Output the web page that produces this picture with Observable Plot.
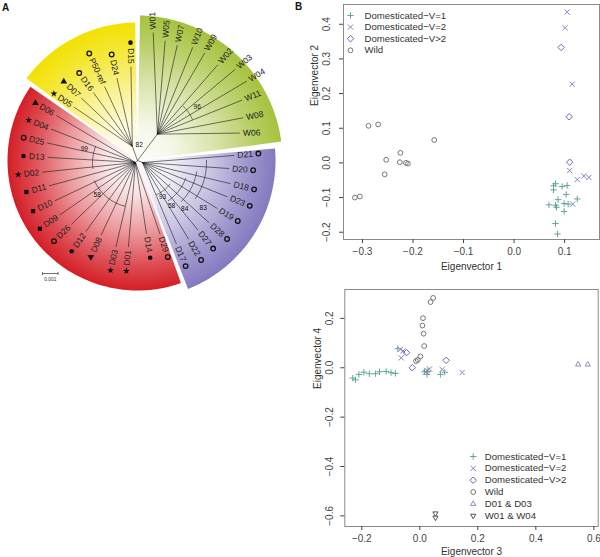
<!DOCTYPE html>
<html><head><meta charset="utf-8">
<script src="https://cdn.jsdelivr.net/npm/d3@7"></script>
<script src="https://cdn.jsdelivr.net/npm/@observablehq/plot@0.6"></script>
<style>
html,body{margin:0;padding:0;background:#fff;}
#fig{position:relative;width:600px;height:557px;overflow:hidden;font-family:"Liberation Sans",Arial,sans-serif;}
#fig svg{position:absolute;overflow:visible;}
.panel{position:absolute;font-weight:bold;font-size:10px;color:#111;line-height:10px;}
</style></head><body><div id="fig"></div>
<script>
// ================= Panel A : tree data =================
const cladeName      = ["W", "P", "R", "Y"];
const cladeNodeAngle = [37, 112, 225, 340];
const cladeNodeDist  = [33, 5.4, 2.8, 15];

const leafName = ["W01","W05","W07","W10","W09","W02","W03","W04","W11","W08","W06",
  "D21","D20","D18","D23","D19","D28","D27","D22","D17",
  "D29","D14","D01","D03","D08","D12","D26","D09","D10","D11","D02","D13","D25","D04","D06",
  "D05","D07","D16","P50-ref","D24","D15"];
const leafClade = ["W","W","W","W","W","W","W","W","W","W","W",
  "P","P","P","P","P","P","P","P","P",
  "R","R","R","R","R","R","R","R","R","R","R","R","R","R","R",
  "Y","Y","Y","Y","Y","Y"];
const leafAngle = [7,13,19,26,32,40,47,54,60,68,75,
  87,95,104,112,121,131,139,147,155,
  163,173,186,194,206,216,226,235,244,254,263,272,281,290,299,
  310,318,327,336,346,356];
const leafLength = [129,123,122,126,127,125,134,135,121,114,106,
  97,92,96,97,93,95,92,94,92,
  77,74,87,89,83,88,92,95,92,92,96,90,92,92,93,
  83,84,81,81,85,94];
const leafMarker = ["","","","","","","","","","","",
  "ring","ring","ring","ring","ring","ring","ring","ring","ring",
  "ring","dot","star","star","tridown","dot","ring","square","square","square","star","dot","ring","star","tri",
  "star","tri","ring","ring","ring","dot"];

const sectorClade  = ["W", "P", "R", "Y"];
const sectorStart  = [1, 85, 160.5, 306.5];
const sectorEnd    = [82.5, 158.5, 304.5, 359];
const sectorRadius = [145, 138, 130, 138];
const sectorColor  = ["#a6c23e", "#8379bf", "#d41e26", "#f2e100"];

const bsValue      = ["99","58","96","83","84","58","93","82"];
const bsClade      = ["R","R","W","P","P","P","P","root"];
const bsRadius     = [43, 45, 38, 64, 55, 46, 35, 0];
const bsFrom       = [262, 194, 43, 88, 100, 110, 128, 0];
const bsTo         = [292, 246, 67, 124, 135, 146, 156, 0];
const bsLabelAngle = [285, 230, 56, 127, 138, 146, 150, 6];
const bsLabelDist  = [53, 50, 48, 76, 63, 52, 40, 16];

const scaleBarValue = 0.001;
const scaleBarLength = 15.6;

// ================= Panel B : PCA data =================
const groupLabel1 = ["Domesticated\u2212V=1","Domesticated\u2212V=2","Domesticated\u2212V>2","Wild"];
const groupLabel2 = ["Domesticated\u2212V=1","Domesticated\u2212V=2","Domesticated\u2212V>2","Wild","D01 & D03","W01 & W04"];

const pc1V1x = [0.078,0.082,0.078,0.095,0.105,0.103,0.087,0.125,0.069,0.082,0.099,0.107,0.099,0.082,0.086,0.084];
const pc1V1y = [-0.066,-0.060,-0.078,-0.068,-0.065,-0.091,-0.106,-0.104,-0.121,-0.122,-0.117,-0.119,-0.140,-0.175,-0.205,-0.128];
const pc1V2x = [0.105,0.101,0.115,0.110,0.125,0.138,0.148,0.116];
const pc1V2y = [0.435,0.390,0.227,-0.022,-0.048,-0.038,-0.042,-0.119];
const pc1V3x = [0.093,0.109,0.110];
const pc1V3y = [0.333,0.133,0.002];
const pc1Wx  = [-0.288,-0.269,-0.158,-0.225,-0.253,-0.226,-0.214,-0.210,-0.256,-0.315,-0.305];
const pc1Wy  = [0.107,0.111,0.066,0.029,0.009,0.002,0.000,-0.002,-0.033,-0.100,-0.097];

const pc2V1x = [-0.231,-0.222,-0.210,-0.193,-0.174,-0.153,-0.139,-0.116,-0.099,-0.084,-0.076,0.016,0.025,0.028,0.071,0.086];
const pc2V1y = [-0.042,-0.049,-0.027,-0.018,-0.024,-0.024,-0.016,-0.015,-0.020,-0.023,0.077,-0.016,-0.027,-0.015,-0.027,-0.018];
const pc2V2x = [-0.067,-0.064,-0.058,0.020,0.025,0.033,0.077,0.146];
const pc2V2y = [0.074,0.040,0.068,-0.018,-0.011,-0.005,-0.007,-0.019];
const pc2V3x = [-0.046,-0.026,0.091];
const pc2V3y = [0.061,0.000,0.030];
const pc2Wx  = [0.046,0.037,0.011,0.009,0.013,0.015,0.002,-0.007,-0.013];
const pc2Wy  = [0.283,0.266,0.201,0.171,0.138,0.088,0.046,0.032,0.027];
const pc2Dx  = [0.546,0.579];
const pc2Dy  = [0.013,0.013];
const pc2Ex  = [0.054,0.054];
const pc2Ey  = [-0.590,-0.607];

const xTicks1 = [-0.3,-0.2,-0.1,0.0,0.1];
const yTicks1 = [-0.2,-0.1,0.0,0.1,0.2,0.3,0.4];
const xTicks2 = [-0.2,0.0,0.2,0.4,0.6];
const yTicks2 = [-0.6,-0.4,-0.2,0.0,0.2];

// ================= build =================
const FONT = '"Liberation Sans", Arial, Helvetica, sans-serif';
const fig = document.getElementById("fig");
const rad = Math.PI / 180;
const polar = (a, d, o = {x: 0, y: 0}) => ({x: o.x + d * Math.sin(a * rad), y: o.y - d * Math.cos(a * rad)});

const leafFont = 8.5;
const ctx = document.createElement("canvas").getContext("2d");
ctx.font = `${leafFont}px ${FONT}`;
const measure = s => ctx.measureText(s).width;

const nodeOf = {root: {x: 0, y: 0}};
cladeName.forEach((c, i) => nodeOf[c] = polar(cladeNodeAngle[i], cladeNodeDist[i]));

const leaves = leafName.map((name, i) => {
  const c = leafClade[i];
  const node = nodeOf[c];
  const tip = polar(leafAngle[i], leafLength[i]);
  const dir = (Math.atan2(tip.x - node.x, -(tip.y - node.y)) / rad + 360) % 360;
  const right = c === "W" || c === "P" || (c === "R" && dir < 180);
  const lab = polar(dir, 3, tip);
  const mk = polar(dir, 3 + measure(name) + 5.5, tip);
  return {name, nx: node.x, ny: node.y, tx: tip.x, ty: tip.y, lx: lab.x, ly: lab.y, mx: mk.x, my: mk.y,
          rot: right ? dir - 90 : dir - 270, right, marker: leafMarker[i]};
});
const stems = cladeName.map(c => ({x: nodeOf[c].x, y: nodeOf[c].y}));

const sectorPts = [];
sectorClade.forEach((c, i) => {
  sectorPts.push({id: c, x: 0, y: 0});
  const n = 72;
  for (let k = 0; k <= n; k++) {
    const p = polar(sectorStart[i] + (sectorEnd[i] - sectorStart[i]) * k / n, sectorRadius[i]);
    sectorPts.push({id: c, x: p.x, y: p.y});
  }
});

const arcPts = [], bsLabels = [];
bsValue.forEach((v, i) => {
  const o = nodeOf[bsClade[i]];
  if (bsRadius[i] > 0) {
    const n = 24;
    for (let k = 0; k <= n; k++) {
      const p = polar(bsFrom[i] + (bsTo[i] - bsFrom[i]) * k / n, bsRadius[i], o);
      arcPts.push({id: i, x: p.x, y: p.y});
    }
  }
  const l = polar(bsLabelAngle[i], bsLabelDist[i], o);
  bsLabels.push({text: v, x: l.x, y: l.y});
});

const defsMark = (index, scales) => {
  const ns = "http://www.w3.org/2000/svg";
  const defs = document.createElementNS(ns, "defs");
  const cx = scales && typeof scales.x === "function" ? scales.x(0) : 137;
  const cy = scales && typeof scales.y === "function" ? scales.y(0) : 160;
  sectorClade.forEach((c, i) => {
    const g = document.createElementNS(ns, "radialGradient");
    g.setAttribute("id", "grad-" + c);
    g.setAttribute("gradientUnits", "userSpaceOnUse");
    g.setAttribute("cx", cx); g.setAttribute("cy", cy); g.setAttribute("r", sectorRadius[i]);
    [[0, 0.02], [0.25, 0.12], [0.55, 0.45], [0.8, 0.78], [1, 1]].forEach(([o, a]) => {
      const s = document.createElementNS(ns, "stop");
      s.setAttribute("offset", o); s.setAttribute("stop-color", sectorColor[i]); s.setAttribute("stop-opacity", a);
      g.appendChild(s);
    });
    defs.appendChild(g);
  });
  return defs;
};

const lineC = "#1a1a1a";
const barX0 = -95, barY = 113;
const tree = Plot.plot({
  width: 295, height: 300, margin: 0,
  x: {domain: [-137, 158], range: [0, 295], axis: null},
  y: {domain: [-160, 140], range: [0, 300], axis: null},
  style: {fontFamily: FONT, background: "transparent"},
  marks: [
    defsMark,
    ...sectorClade.map(c => Plot.line(sectorPts.filter(d => d.id === c),
      {x: "x", y: "y", fill: `url(#grad-${c})`, stroke: "none", curve: "linear-closed"})),
    Plot.link(stems, {x1: () => 0, y1: () => 0, x2: "x", y2: "y", stroke: lineC, strokeWidth: 0.6}),
    Plot.link(leaves, {x1: "nx", y1: "ny", x2: "tx", y2: "ty", stroke: lineC, strokeWidth: 0.6}),
    Plot.line(arcPts, {x: "x", y: "y", z: "id", stroke: lineC, strokeWidth: 0.6}),
    Plot.text(bsLabels, {x: "x", y: "y", text: "text", fontSize: 6.5, fill: "#111"}),
    Plot.text(leaves.filter(d => d.right), {x: "lx", y: "ly", text: "name", rotate: "rot",
      textAnchor: "start", lineAnchor: "middle", fontSize: leafFont, fill: "#222"}),
    Plot.text(leaves.filter(d => !d.right), {x: "lx", y: "ly", text: "name", rotate: "rot",
      textAnchor: "end", lineAnchor: "middle", fontSize: leafFont, fill: "#222"}),
    Plot.dot(leaves.filter(d => d.marker === "dot"), {x: "mx", y: "my", r: 2.3, fill: "#111", stroke: "none"}),
    Plot.dot(leaves.filter(d => d.marker === "ring"), {x: "mx", y: "my", r: 2.3, fill: "none", stroke: "#111", strokeWidth: 1.3}),
    Plot.dot(leaves.filter(d => d.marker === "star"), {x: "mx", y: "my", r: 2.2, symbol: "star", fill: "#111", stroke: "none"}),
    Plot.dot(leaves.filter(d => d.marker === "tri"), {x: "mx", y: "my", r: 2.5, symbol: "triangle", fill: "#111", stroke: "none"}),
    Plot.dot(leaves.filter(d => d.marker === "tridown"), {x: "mx", y: "my", r: 2.5, symbol: "triangle", rotate: 180, fill: "#111", stroke: "none"}),
    Plot.dot(leaves.filter(d => d.marker === "square"), {x: "mx", y: "my", r: 2.4, symbol: "square", fill: "#111", stroke: "none"}),
    Plot.link([scaleBarValue], {x1: () => barX0, x2: () => barX0 + scaleBarLength, y1: () => barY, y2: () => barY, stroke: "#333", strokeWidth: 0.7}),
    Plot.link([0, 1], {x1: d => barX0 + d * scaleBarLength, x2: d => barX0 + d * scaleBarLength, y1: () => barY - 1.5, y2: () => barY + 1.5, stroke: "#333", strokeWidth: 0.7}),
    Plot.text([scaleBarValue], {x: () => barX0 + scaleBarLength / 2, y: () => barY + 6, text: d => d3.format(".3f")(d), fontSize: 4.8, fill: "#333"})
  ]
});
tree.style.left = "0px"; tree.style.top = "0px";
fig.appendChild(tree);

// ---------- scatter helper ----------
const fmt = d3.format(".1f");
const rows = (xs, ys) => xs.map((x, i) => ({x, y: ys[i]}));
function scatter(o) {
  const marks = [
    Plot.frame({stroke: "#8a8a8a"}),
    Plot.axisX({ticks: o.xTicks, tickFormat: fmt, tickSize: 4, tickPadding: o.xPad, label: null, fontSize: 10, color: "#444"}),
    Plot.axisY({ticks: o.yTicks, tickFormat: fmt, tickSize: 4, tickPadding: o.yPad, tickRotate: -90, label: null, fontSize: 10, color: "#444"}),
    ...o.groups.map(g => Plot.dot(g.data, {x: "x", y: "y", symbol: g.symbol, r: g.r, stroke: g.color, strokeWidth: 1, fill: "none", rotate: g.rotate || 0})),
    Plot.text([o.xLabel], {frameAnchor: "bottom", dy: o.xLabelDy, text: d => d, fontSize: 10, fill: "#333", lineAnchor: "middle"}),
    Plot.text([o.yLabel], {frameAnchor: "left", dx: o.yLabelDx, dy: o.yLabelDy, rotate: -90, text: d => d, fontSize: 10, fill: "#333", lineAnchor: "middle"}),
    ...o.groups.flatMap((g, i) => [
      Plot.dot([g], {frameAnchor: "top-left", dx: o.legDx, dy: o.legDy + i * o.legStep, symbol: g.symbol, r: g.r, stroke: g.color, strokeWidth: 1, fill: "none", rotate: g.rotate || 0}),
      Plot.text([g.label], {frameAnchor: "top-left", dx: o.legTextDx, dy: o.legDy + i * o.legStep, text: d => d, textAnchor: "start", lineAnchor: "middle", fontSize: 9.6, fill: "#333"})
    ])
  ];
  return Plot.plot({
    width: o.width, height: o.height,
    marginLeft: o.ml, marginRight: o.mr, marginTop: o.mt, marginBottom: o.mb,
    x: {domain: o.xDomain}, y: {domain: o.yDomain},
    style: {fontFamily: FONT, fontSize: "10px", background: "transparent", color: "#333"},
    marks
  });
}

const cV1 = "#5fa69b", cV2 = "#8883c4", cV3 = "#6b66b2", cW = "#767676", cT = "#8e8ac8", cE = "#555";

const p1 = scatter({
  width: 300, height: 270, ml: 43, mr: 1, mt: 4, mb: 31,
  xDomain: [-0.3375, 0.169], yDomain: [-0.221, 0.457],
  xTicks: xTicks1, yTicks: yTicks1, xPad: 4, yPad: 10,
  xLabel: "Eigenvector 1", yLabel: "Eigenvector 2", xLabelDy: 27, yLabelDx: -29, yLabelDy: -16,
  legDx: 7, legTextDx: 21, legDy: 11, legStep: 11.6,
  groups: [
    {label: groupLabel1[0], data: rows(pc1V1x, pc1V1y), symbol: "plus", r: 2.2, color: cV1},
    {label: groupLabel1[1], data: rows(pc1V2x, pc1V2y), symbol: "times", r: 2.5, color: cV2},
    {label: groupLabel1[2], data: rows(pc1V3x, pc1V3y), symbol: "diamond2", r: 2.9, color: cV3},
    {label: groupLabel1[3], data: rows(pc1Wx, pc1Wy), symbol: "circle", r: 2.4, color: cW}
  ]
});
p1.style.left = "300px"; p1.style.top = "0px";
fig.appendChild(p1);

const p2 = scatter({
  width: 300, height: 287, ml: 44.3, mr: 2.3, mt: 19, mb: 31,
  xDomain: [-0.2586, 0.615], yDomain: [-0.643, 0.317],
  xTicks: xTicks2, yTicks: yTicks2, xPad: 4, yPad: 8,
  xLabel: "Eigenvector 3", yLabel: "Eigenvector 4", xLabelDy: 25.5, yLabelDx: -27, yLabelDy: -19,
  legDx: 128.4, legTextDx: 140, legDy: 167, legStep: 11.85,
  groups: [
    {label: groupLabel2[0], data: rows(pc2V1x, pc2V1y), symbol: "plus", r: 2.2, color: cV1},
    {label: groupLabel2[1], data: rows(pc2V2x, pc2V2y), symbol: "times", r: 2.5, color: cV2},
    {label: groupLabel2[2], data: rows(pc2V3x, pc2V3y), symbol: "diamond2", r: 2.9, color: cV3},
    {label: groupLabel2[3], data: rows(pc2Wx, pc2Wy), symbol: "circle", r: 2.4, color: cW},
    {label: groupLabel2[4], data: rows(pc2Dx, pc2Dy), symbol: "triangle2", r: 2.5, color: cT},
    {label: groupLabel2[5], data: rows(pc2Ex, pc2Ey), symbol: "triangle2", r: 2.5, color: cE, rotate: 180}
  ]
});
p2.style.left = "300px"; p2.style.top = "270px";
fig.appendChild(p2);

for (const [t, l, tp] of [["A", 2, 3], ["B", 295, 2]]) {
  const d = document.createElement("div");
  d.className = "panel"; d.textContent = t; d.style.left = l + "px"; d.style.top = tp + "px";
  fig.appendChild(d);
}
</script>
</body></html>
